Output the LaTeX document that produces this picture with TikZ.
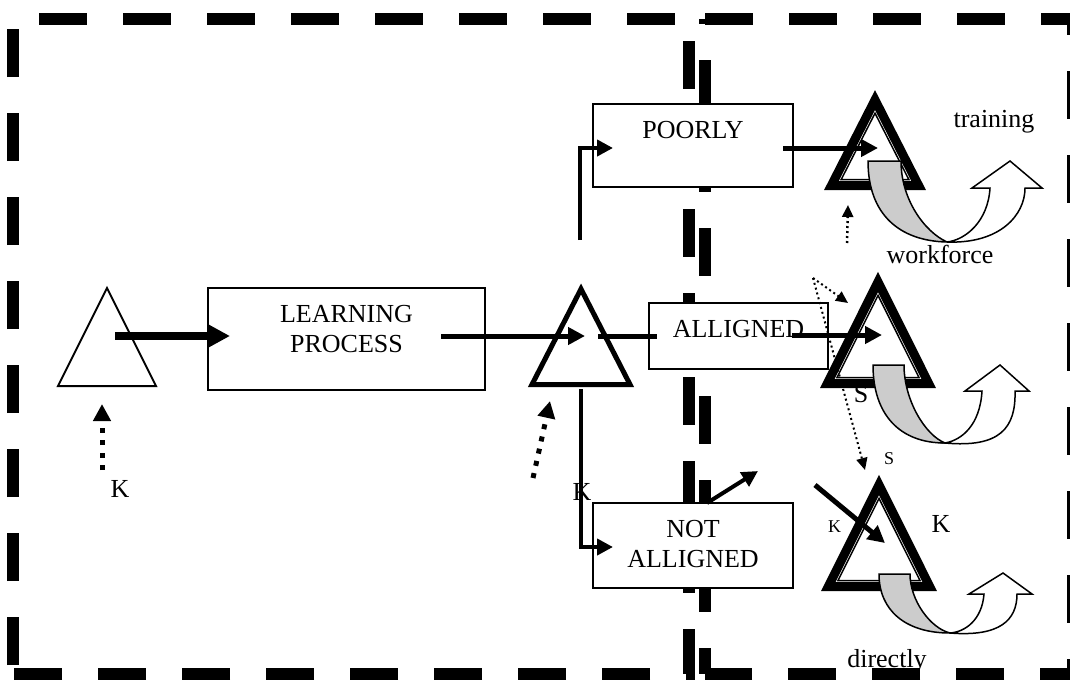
\documentclass[tikz,border=0pt]{standalone}
\usepackage{fontspec}
\setmainfont{Liberation Serif}
\usepackage{tikz}
\usetikzlibrary{
  arrows.meta,
  positioning,
}
\tikzstyle{frame} = [
  line width=12pt,
  dash pattern=on 48pt off 36pt,
]
\tikzstyle{box} = [draw, rectangle, line width=1.5pt, fill=white]
\tikzstyle{boxtext} = [inner sep=0pt, align=center, font=\fontsize{26}{30}\selectfont]
\tikzstyle{lbl} = [inner sep=0pt, anchor=base, font=\fontsize{26}{30}\selectfont]
\tikzstyle{smalllbl} = [lbl, font=\fontsize{18}{20}\selectfont]
\tikzstyle{arrow} = [-{Triangle[length=17pt,width=17pt]}, line width=5pt]
\tikzstyle{bigarrow} = [-{Triangle[length=22pt,width=22pt]}, line width=8pt]
\tikzstyle{branch} = [-{Triangle[length=16pt,width=16pt]}, line width=4pt]
\tikzstyle{link} = [line width=5pt]
\tikzstyle{dotarrow} = [
  -{Triangle[length=17pt,width=17pt]},
  line width=5pt,
  dash pattern=on 5pt off 7.5pt,
]
\tikzstyle{thindot} = [
  -{Triangle[length=12pt,width=11pt]},
  line width=2pt,
  dash pattern=on 2pt off 3pt,
]
\tikzstyle{thintri} = [line width=2pt, line join=miter]
\tikzstyle{midtri} = [line width=5pt, line join=miter]
\tikzstyle{boldtri} = [line width=9pt, line join=miter, fill=white]
\tikzstyle{innertri} = [line width=1.5pt, line join=miter]
\tikzstyle{uturnback} = [line width=1.5pt, fill=gray!40]
\tikzstyle{uturnfront} = [line width=1.5pt, fill=white]

\begin{document}
\begin{tikzpicture}[x=1pt, y=-1pt]
  \useasboundingbox (0,0) rectangle (1070,680);

  % labels that lie under other shapes
  \node[lbl] (directly) at (887,667) {directly};
  \node[lbl] (s0) at (861,402) {S};
  \node[lbl] (k1) at (582,500) {K};

  % dashed frames
  \draw[frame, dash phase=75pt] (13,674) -- (13,19) -- (689,19) -- (689,674) -- cycle;
  \draw[frame] (705,19) -- (1073,19) -- (1073,674) -- (705,674);
  \draw[frame, dash phase=43pt] (705,19) -- (705,674);

  % boxes
  \node[box, minimum width=277, minimum height=102] (learn) at (346.5,339) {};
  \node[box, minimum width=200, minimum height=83] (poorly) at (693,145.5) {};
  \node[box, minimum width=179, minimum height=66] (alligned) at (738.5,336) {};
  \node[box, minimum width=200, minimum height=85] (notall) at (693,545.5) {};
  \node[boxtext, below=18pt of learn.north] (learntxt) {LEARNING\\PROCESS};
  \node[boxtext, below=18pt of poorly.north] (poorlytxt) {POORLY};
  \node[boxtext, below=18pt of alligned.north] (allignedtxt) {ALLIGNED};
  \node[boxtext, below=18pt of notall.north] (notalltxt) {NOT\\ALLIGNED};

  % triangles
  \draw[thintri] (107,288) -- (156,386) -- (58,386) -- cycle;
  \draw[midtri] (581,289) -- (630,384.5) -- (532,384.5) -- cycle;
  \draw[boldtri] (875,100) -- (918.6,185.5) -- (831.4,185.5) -- cycle;
  \draw[innertri] (875,113.2) -- (908.8,179.5) -- (841.2,179.5) -- cycle;
  \draw[boldtri] (878,282) -- (928.7,383.5) -- (827.3,383.5) -- cycle;
  \draw[innertri] (878,295.4) -- (919,377.5) -- (837,377.5) -- cycle;
  \draw[boldtri] (879,485) -- (929.7,586.5) -- (828.3,586.5) -- cycle;
  \draw[innertri] (879,498.4) -- (920,580.5) -- (838,580.5) -- cycle;

  % curved arrows
  \draw[uturnback] (868,161) -- (901,161) .. controls (901,200) and (925,232) .. (947,242)
    .. controls (900,241) and (868,215) .. (868,161) -- cycle;
  \draw[uturnfront] (947,242) .. controls (1000,244) and (1025,215) .. (1025,188) -- (1042,188)
    -- (1010,161) -- (972,188) -- (990,188) .. controls (988,222) and (965,240) .. (947,242) -- cycle;
  \draw[uturnback] (873,365) -- (904,365) .. controls (904,400) and (925,435) .. (945,443)
    .. controls (900,443) and (873,415) .. (873,365) -- cycle;
  \draw[uturnfront] (945,443) .. controls (1000,448) and (1016,428) .. (1015,391) -- (1029,391)
    -- (1000,365) -- (965,391) -- (982,391) .. controls (980,425) and (962,440) .. (945,443) -- cycle;
  \draw[uturnback] (879,574) -- (910,574) .. controls (910,600) and (930,628) .. (950,633)
    .. controls (905,633) and (879,610) .. (879,574) -- cycle;
  \draw[uturnfront] (950,633) .. controls (1000,637) and (1017,620) .. (1017,594) -- (1032,594)
    -- (1003,573) -- (969,594) -- (984,594) .. controls (982,620) and (965,632) .. (950,633) -- cycle;

  % connector ends
  \coordinate (tri0c) at (115,336);
  \coordinate (learnin) at (230,336);
  \coordinate (learnout) at (441,336);
  \coordinate (tri1c) at (585,336);
  \coordinate (tri1r) at (598,336);
  \coordinate (allin) at (657,336);
  \coordinate (allout) at (792,335);
  \coordinate (tri3c) at (882,335);
  \coordinate (poorout) at (783,148);
  \coordinate (tri2c) at (878,148);
  \coordinate (kin) at (815,485);
  \coordinate (tri4c) at (885,543);
  \coordinate (upfoot) at (580,240);
  \coordinate (poorin) at (613,148);
  \coordinate (tri1b) at (580.5,389);
  \coordinate (notin) at (613,547);
  \coordinate (notout) at (707,503);
  \coordinate (notto) at (758,471);
  \coordinate (dk0) at (102,470);
  \coordinate (dk0t) at (102,404);
  \coordinate (dk1) at (533,478);
  \coordinate (dk1t) at (550,401);
  \coordinate (dw) at (847,243);
  \coordinate (dwt) at (848,205);
  \coordinate (ds) at (813,278);
  \coordinate (dst1) at (848,303);
  \coordinate (dst2) at (865,470);

  % connectors
  \draw[bigarrow] (tri0c) -- (learnin);
  \draw[arrow] (learnout) -- (tri1c);
  \draw[link] (tri1r) -- (allin);
  \draw[arrow] (allout) -- (tri3c);
  \draw[arrow] (poorout) -- (tri2c);
  \draw[arrow] (kin) -- (tri4c);
  \draw[branch] (upfoot) |- (poorin);
  \draw[branch] (tri1b) |- (notin);
  \draw[branch] (notout) -- (notto);
  \draw[dotarrow] (dk0) -- (dk0t);
  \draw[dotarrow] (dk1) -- (dk1t);
  \draw[thindot, line width=2.5pt] (dw) -- (dwt);
  \draw[thindot] (ds) -- (dst1);
  \draw[thindot] (ds) -- (dst2);

  % labels
  \node[lbl] (k0) at (120,497) {K};
  \node[lbl] (training) at (994,127) {training};
  \node[lbl] (workforce) at (940,263) {workforce};
  \node[smalllbl] (s1) at (889,464) {S};
  \node[smalllbl] (k2) at (834.5,532) {K};
  \node[lbl] (k3) at (941,532) {K};
\end{tikzpicture}
\end{document}
